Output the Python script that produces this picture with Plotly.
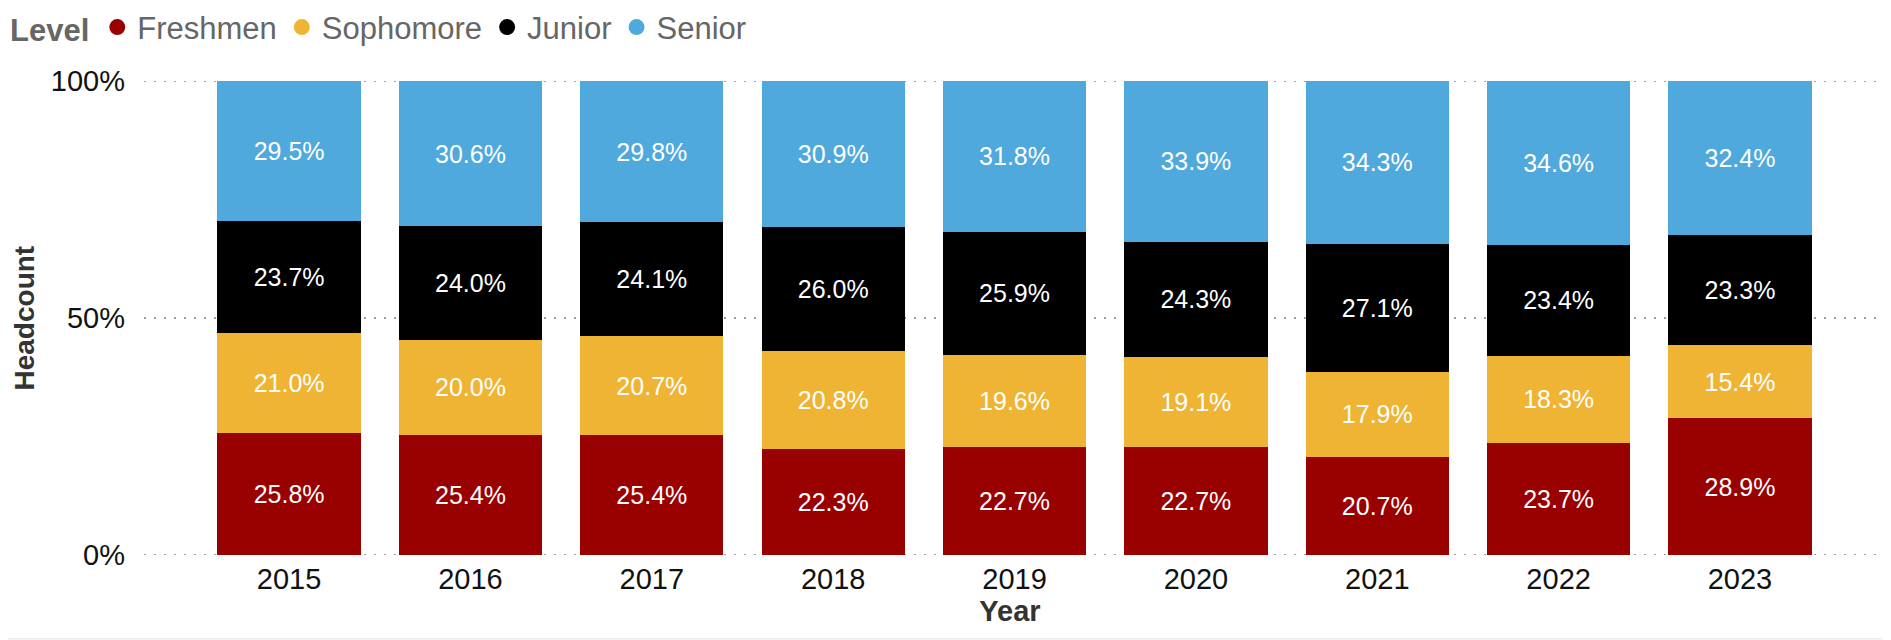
import plotly.graph_objects as go

# data (percent of headcount per level)
years = ['2015', '2016', '2017', '2018', '2019', '2020', '2021', '2022', '2023']
levels = ['Freshmen', 'Sophomore', 'Junior', 'Senior']
freshmen = [25.8, 25.4, 25.4, 22.3, 22.7, 22.7, 20.7, 23.7, 28.9]
sophomore = [21.0, 20.0, 20.7, 20.8, 19.6, 19.1, 17.9, 18.3, 15.4]
junior = [23.7, 24.0, 24.1, 26.0, 25.9, 24.3, 27.1, 23.4, 23.3]
senior = [29.5, 30.6, 29.8, 30.9, 31.8, 33.9, 34.3, 34.6, 32.4]
y_ticks = [0, 50, 100]
y_ticktext = ['0%', '50%', '100%']

colors = ['#990000', '#F0B434', '#000000', '#4FA9DC']
series = [freshmen, sophomore, junior, senior]
FONT = 'Liberation Sans, Arial, sans-serif'

fig = go.Figure()

for name, vals, col in zip(levels, series, colors):
    fig.add_trace(go.Bar(
        x=years,
        y=vals,
        name=name,
        marker=dict(color=col, line=dict(width=0)),
        text=[f'{v:.1f}%' for v in vals],
        textposition='inside',
        insidetextanchor='middle',
        textangle=0,
        textfont=dict(color='white', size=25, family=FONT),
        showlegend=False,
        hoverinfo='skip'
    ))

# round legend markers like the original
for name, col in zip(levels, colors):
    fig.add_trace(go.Scatter(
        x=[None], y=[None],
        mode='markers',
        name=name,
        marker=dict(color=col, size=22, symbol='circle'),
        showlegend=True
    ))

# dotted gridlines (incl. the 0% and 100% edges, which plotly skips)
grid_shapes = [dict(type='line', xref='paper', yref='y', x0=0, x1=1, y0=t, y1=t,
                    line=dict(color='#A0A0A0', width=2, dash='2px,8px'), layer='below')
               for t in y_ticks]
grid_shapes.append(dict(type='line', xref='paper', yref='paper', x0=-0.1, x1=1.1,
                        y0=-0.177, y1=-0.177, line=dict(color='#E0E0E0', width=1)))

fig.update_layout(
    barmode='stack',
    bargap=0.21,
    width=1891,
    height=640,
    margin=dict(l=136, r=23, t=73, b=93, autoexpand=False),
    paper_bgcolor='white',
    plot_bgcolor='white',
    font=dict(family=FONT, color='#000000'),
    legend=dict(
        orientation='h',
        traceorder='normal',
        x=0.0, xanchor='left',
        xref='container',
        y=1.17, yanchor='top',
        yref='paper',
        title=dict(text='<b>Level</b>', font=dict(size=31, color='#666666')),
        font=dict(size=31, color='#666666'),
        itemwidth=30,
        tracegroupgap=0
    ),
    xaxis=dict(
        range=[-0.8, 8.75],
        title=dict(text='<b>Year</b>', font=dict(size=29, color='#333333'), standoff=6),
        tickfont=dict(size=29, color='#111111'),
        ticklabelstandoff=4,
        showgrid=False,
        showline=False,
        zeroline=False,
        automargin=False
    ),
    yaxis=dict(
        range=[0, 100],
        tickvals=y_ticks,
        ticktext=y_ticktext,
        tickfont=dict(size=29, color='#111111'),
        ticklabelstandoff=18,
        showgrid=False,
        zeroline=False,
        showline=False,
        automargin=False
    ),
    annotations=[dict(
        text='<b>Headcount</b>',
        xref='paper', yref='paper',
        x=-0.069, y=0.5,
        xanchor='center', yanchor='middle',
        textangle=-90,
        showarrow=False,
        borderpad=0,
        font=dict(size=28, color='#333333')
    )],
    shapes=grid_shapes
)

fig.write_html('out.html')
